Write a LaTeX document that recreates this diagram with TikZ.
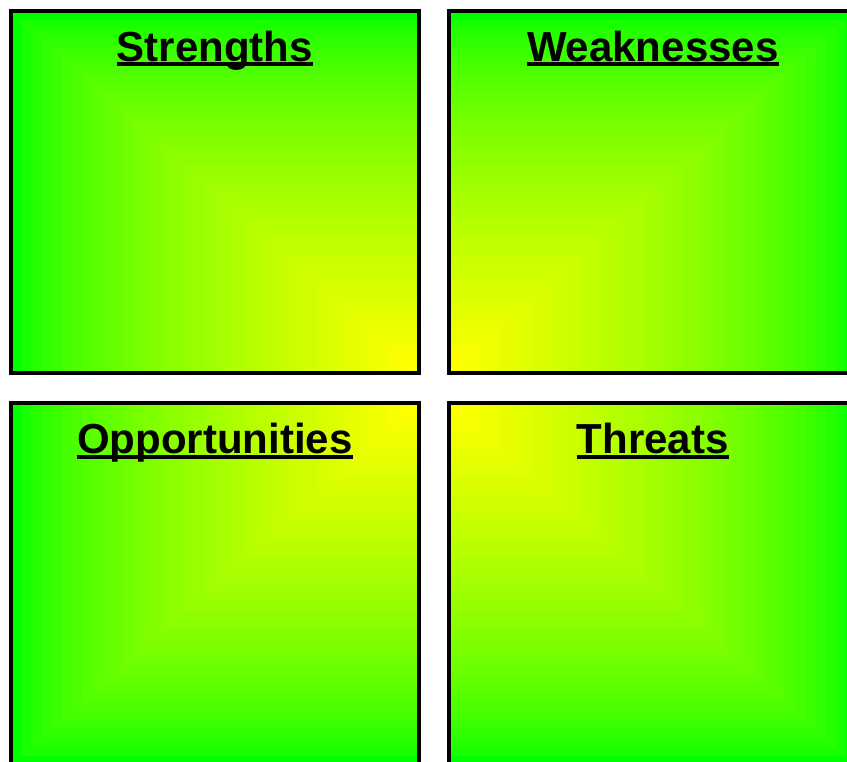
\documentclass[tikz,border=0pt]{standalone}
\usepackage{fontspec}
\setmainfont{Liberation Sans}
\definecolor{hot}{RGB}{255,255,0}
\definecolor{cool}{RGB}{0,255,0}
\begin{document}
\begin{tikzpicture}[x=1pt,y=-1pt,
  quadrant/.style={draw=black, line width=4pt, minimum width=407.5pt,
    minimum height=362pt, inner sep=0pt},
  heading/.style={inner sep=0pt, anchor=base,
    font=\bfseries\fontsize{42}{50}\selectfont},
  rule/.style={line width=4pt}]
\useasboundingbox (0,0) rectangle (847,762);
\def\bw{407.5}\def\bh{362}
% rectangular gradients: nested rectangles growing out of the yellow corner
\foreach \cx/\cy/\dx/\dy in {418.5/373/-1/-1, 449/373/1/-1, 418.5/403/-1/1, 449/403/1/1}{
  \foreach \i in {39,38,...,0}{
    \pgfmathsetmacro\p{min(100,100*(1.0001-\i/39)^0.65)}
    \pgfmathsetmacro\f{(\i+1)/40}
    \fill[hot!\p!cool] (\cx,\cy) rectangle ++(\dx*\f*\bw, \dy*\f*\bh);
  }
}
% frames
\node[quadrant] (S) at (214.75,192) {};
\node[quadrant] (W) at (652.75,192) {};
\node[quadrant] (O) at (214.75,584) {};
\node[quadrant] (T) at (652.75,584) {};
% underlined headings
\node[heading] (St) at (214.75,61.5) {Strengths};
\node[heading] (Wt) at (652.75,61.5) {Weaknesses};
\node[heading] (Ot) at (214.75,453.5) {Opportunities};
\node[heading] (Tt) at (652.75,453.5) {Threats};
\foreach \n in {St,Wt,Ot,Tt}{
  \draw[rule] ([yshift=-3pt]\n.base west) -- ([yshift=-3pt]\n.base east);
}
\end{tikzpicture}
\end{document}
